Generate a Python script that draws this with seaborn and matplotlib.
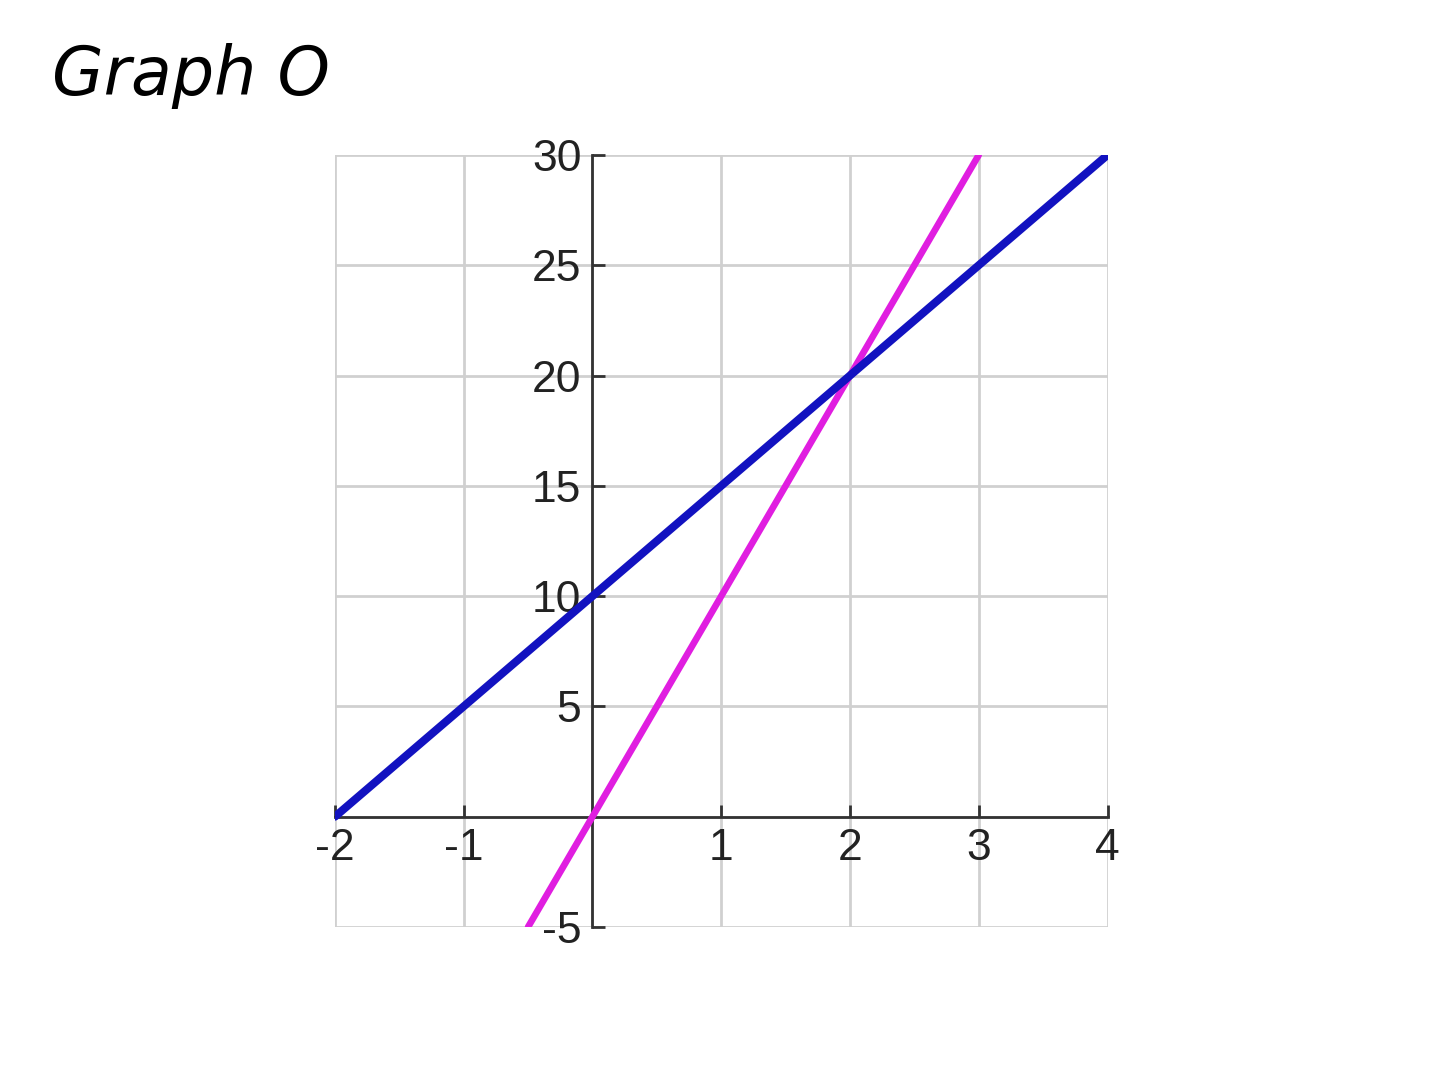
import numpy as np
import pandas as pd
import matplotlib
matplotlib.use('Agg')
import matplotlib.pyplot as plt
import seaborn as sns

# line data
blue_x = [-2, -1, 0, 1, 2, 3, 4]
blue_y = [0, 5, 10, 15, 20, 25, 30]
pink_x = [-0.5, 0, 1, 2, 3]
pink_y = [-5, 0, 10, 20, 30]
x_ticks = [-2, -1, 1, 2, 3, 4]
y_ticks = [-5, 5, 10, 15, 20, 25, 30]
title = 'Graph O'

sns.set_theme(style='white')
plt.rcParams['font.family'] = ['Liberation Sans Narrow', 'Liberation Sans', 'DejaVu Sans']

fig = plt.figure(figsize=(14.4, 10.8), dpi=100)
ax = fig.add_axes([0.2326, 0.1417, 0.5365, 0.7148])
ax.set_axisbelow(False)

df_blue = pd.DataFrame({'x': blue_x, 'y': blue_y})
df_pink = pd.DataFrame({'x': pink_x, 'y': pink_y})
sns.lineplot(data=df_pink, x='x', y='y', ax=ax, color='#e01ee0', linewidth=4.8, zorder=3)
sns.lineplot(data=df_blue, x='x', y='y', ax=ax, color='#1212c0', linewidth=5.8, zorder=4)

ax.set_xlim(-2, 4)
ax.set_ylim(-5, 30)

# grid lines on every integer / every 5, including the edges
for gx in range(-2, 5):
    ax.axvline(gx, color='#d0d0d0', linewidth=2, zorder=1)
for gy in range(-5, 31, 5):
    ax.axhline(gy, color='#d0d0d0', linewidth=2, zorder=1)

ax.spines['top'].set_visible(False)
ax.spines['right'].set_visible(False)
ax.spines['left'].set_position(('data', 0))
ax.spines['bottom'].set_position(('data', 0))
for s in ['left', 'bottom']:
    ax.spines[s].set_color('#333333')
    ax.spines[s].set_linewidth(2)
    ax.spines[s].set_zorder(2)

ax.set_xticks(x_ticks)
ax.set_yticks(y_ticks)
ax.set_xticklabels([str(v) for v in x_ticks])
ax.set_yticklabels([str(v) for v in y_ticks])
ax.tick_params(axis='both', direction='in', length=9, width=2, color='#333333',
               labelsize=32, labelcolor='#222222', pad=8, bottom=True, left=True)
ax.set_xlabel('')
ax.set_ylabel('')

fig.text(0.036, 0.93, title, fontsize=48, fontstyle='italic',
         family=['DejaVu Sans'], va='center', ha='left', color='black')

fig.savefig('out.png', dpi=100, facecolor='white')
